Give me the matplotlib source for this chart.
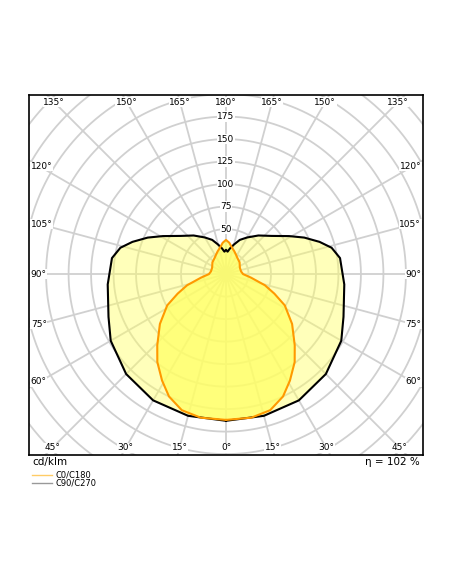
import matplotlib
matplotlib.use('Agg')
import matplotlib.pyplot as plt
import numpy as np

# gamma (deg, 0 = down) and intensity (cd/klm)
C90_GAMMA = [0, 15, 30, 45, 60, 70, 85, 98, 104, 109, 115, 121, 130, 140, 150, 158, 165, 171, 176, 180]
C90_VALUES = [163, 163, 162, 157, 148, 139, 132, 128, 121, 110, 96, 82, 66, 56, 47, 41, 34, 29, 25, 27]
C0_GAMMA = [0, 10, 18, 25, 31, 38, 44, 53, 62, 68, 74, 82, 90, 100, 115, 131, 145, 152, 160, 167, 174, 180]
C0_VALUES = [162, 162, 159, 150, 138, 124, 110, 92, 74, 58, 45, 28, 19, 17, 17, 20, 22, 24, 27, 30, 35, 38]
RINGS = [25, 50, 75, 100, 125, 150, 175, 200, 225, 250, 275, 300]
RING_LABELS = [50, 75, 100, 125, 150, 175]


def to_xy(gamma, r, side=1):
    g = np.radians(np.asarray(gamma, float))
    r = np.asarray(r, float)
    return side * r * np.sin(g), -r * np.cos(g)


def closed(gamma, vals):
    xr, yr = to_xy(gamma, vals, 1)
    xl, yl = to_xy(gamma, vals, -1)
    return np.concatenate([xr, xl[::-1]]), np.concatenate([yr, yl[::-1]])


fig = plt.figure(figsize=(4.52, 5.84), dpi=100)
ax = fig.add_axes([29 / 452, 129 / 584, 394 / 452, 360 / 584])
X0, X1, Y0, Y1 = -219, 219, -201, 199
ax.set_xlim(X0, X1)
ax.set_ylim(Y0, Y1)
ax.set_aspect('auto')
ax.set_xticks([])
ax.set_yticks([])
for s in ax.spines.values():
    s.set_linewidth(1.2)

t = np.linspace(0, 2 * np.pi, 400)
for r in RINGS:
    ax.plot(r * np.cos(t), r * np.sin(t), color='#d0d0d0', lw=1.3, zorder=1)
for a in range(0, 360, 15):
    ax.plot([0, 400 * np.sin(np.radians(a))], [0, -400 * np.cos(np.radians(a))],
            color='#d0d0d0', lw=1.3, zorder=1)

xb, yb = closed(C90_GAMMA, C90_VALUES)
ax.fill(xb, yb, color='#ffff66', alpha=0.45, lw=0, zorder=2)
xo, yo = closed(C0_GAMMA, C0_VALUES)
ax.fill(xo, yo, color='#ffff66', alpha=0.75, lw=0, zorder=3)
ax.plot(xb, yb, color='black', lw=1.5, zorder=4)
ax.plot(xo, yo, color='#ff9900', lw=1.5, zorder=5)

for v in RING_LABELS:
    ax.text(0, v, str(v), ha='center', va='center', fontsize=6.5, zorder=6,
            bbox=dict(facecolor='white', edgecolor='none', pad=0.5))

# angle labels at the frame
for a in [135, 150, 165, 180]:
    for side in (1, -1):
        x = side * (Y1 - 8) * np.tan(np.radians(180 - a))
        ax.text(x, Y1 - 8, f'{a}°', ha='center', va='center', fontsize=6.5, zorder=6,
                bbox=dict(facecolor='white', edgecolor='none', pad=0.3))
for a in [0, 15, 30, 45]:
    for side in (1, -1):
        if a == 0 and side == -1:
            continue
        x = side * (-Y0 - 8) * np.tan(np.radians(a))
        ax.text(x, Y0 + 8, f'{a}°', ha='center', va='center', fontsize=6.5, zorder=6,
                bbox=dict(facecolor='white', edgecolor='none', pad=0.3))
for a in [60, 75, 90, 105, 120]:
    for side in (1, -1):
        y = -(X1 - 12) / np.tan(np.radians(a))
        ax.text(side * (X1 - 2), y, f'{a}°', ha='right' if side > 0 else 'left',
                va='center', fontsize=6.5, zorder=6,
                bbox=dict(facecolor='white', edgecolor='none', pad=0.3))

fig.text(32 / 452, 1 - 462 / 584, 'cd/klm', fontsize=7.5, va='center')
fig.text(420 / 452, 1 - 462 / 584, 'η = 102 %', fontsize=7.5, va='center', ha='right')
fig.add_artist(plt.Line2D([32 / 452, 52 / 452], [1 - 475 / 584] * 2, color='#ffcc66', lw=1))
fig.add_artist(plt.Line2D([32 / 452, 52 / 452], [1 - 483 / 584] * 2, color='#999999', lw=1))
fig.text(56 / 452, 1 - 475 / 584, 'C0/C180', fontsize=6, va='center')
fig.text(56 / 452, 1 - 483 / 584, 'C90/C270', fontsize=6, va='center')

fig.savefig('out.png', dpi=100)
